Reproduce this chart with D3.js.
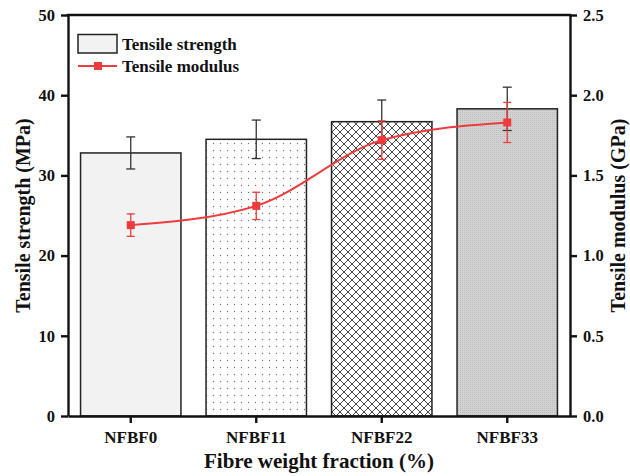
<!DOCTYPE html>
<html><head><meta charset="utf-8">
<script src="https://cdn.jsdelivr.net/npm/d3@7"></script>
<style>body{margin:0;background:#fff}svg{display:block}text{font-family:"Liberation Serif","Times New Roman",serif;font-weight:bold;fill:#111}</style>
</head><body><svg id="c" width="630" height="476"></svg>
<script>
const categories = ["NFBF0","NFBF11","NFBF22","NFBF33"];
const strength = [32.8, 34.5, 36.7, 38.3];
const strengthErr = [2.0, 2.4, 2.7, 2.7];
const modulus = [1.19, 1.31, 1.72, 1.83];
const modulusErr = [0.07, 0.085, 0.12, 0.125];
const leftTicks = [0,10,20,30,40,50];
const rightTicks = [0,0.5,1.0,1.5,2.0,2.5];

const svg = d3.select("#c");
const m = {l:68, r:570, t:15, b:416};
const x = d3.scaleBand().domain(categories).range([m.l, m.r]).paddingInner(0.2).paddingOuter(0.1);
const yL = d3.scaleLinear().domain([0,50]).range([m.b, m.t]);
const yR = d3.scaleLinear().domain([0,2.5]).range([m.b, m.t]);
const red = "#ee3b3b";

const defs = svg.append("defs");
const dots = defs.append("pattern").attr("id","dots").attr("patternUnits","userSpaceOnUse").attr("width",7).attr("height",7);
dots.append("rect").attr("width",7).attr("height",7).attr("fill","#fff");
dots.append("circle").attr("cx",3.5).attr("cy",3.5).attr("r",0.7).attr("fill","#777");
const hatch = defs.append("pattern").attr("id","hatch").attr("patternUnits","userSpaceOnUse").attr("width",8).attr("height",8);
hatch.append("rect").attr("width",8).attr("height",8).attr("fill","#fff");
hatch.append("path").attr("d","M0,0L8,8M8,0L0,8M-1,7L1,9M7,-1L9,1M-1,1L1,-1M7,9L9,7").attr("stroke","#333").attr("stroke-width",0.9);
const fine = defs.append("pattern").attr("id","fine").attr("patternUnits","userSpaceOnUse").attr("width",2).attr("height",2);
fine.append("rect").attr("width",2).attr("height",2).attr("fill","#d2d2d2");
fine.append("rect").attr("width",1).attr("height",1).attr("fill","#bdbdbd");
const fills = ["#f2f2f2","url(#dots)","url(#hatch)","url(#fine)"];

// bars
svg.selectAll("rect.bar").data(categories).join("rect").attr("class","bar")
  .attr("x", d=>x(d)).attr("width", x.bandwidth())
  .attr("y", (d,i)=>yL(strength[i])).attr("height",(d,i)=>yL(0)-yL(strength[i]))
  .attr("fill",(d,i)=>fills[i]).attr("stroke","#222").attr("stroke-width",1.5);

// strength error bars
const eb = svg.append("g").attr("stroke","#333").attr("stroke-width",1.3);
categories.forEach((c,i)=>{
  const cx = x(c)+x.bandwidth()/2;
  const t = yL(strength[i]+strengthErr[i]), b = yL(strength[i]-strengthErr[i]);
  eb.append("line").attr("x1",cx).attr("x2",cx).attr("y1",t).attr("y2",b);
  eb.append("line").attr("x1",cx-4.5).attr("x2",cx+4.5).attr("y1",t).attr("y2",t);
  eb.append("line").attr("x1",cx-4.5).attr("x2",cx+4.5).attr("y1",b).attr("y2",b);
});

// modulus line
const pts = categories.map((c,i)=>[x(c)+x.bandwidth()/2, yR(modulus[i])]);
svg.append("path").attr("d", d3.line().curve(d3.curveMonotoneX)(pts)).attr("fill","none").attr("stroke",red).attr("stroke-width",2);
const rb = svg.append("g").attr("stroke",red).attr("stroke-width",1.3);
categories.forEach((c,i)=>{
  const cx = x(c)+x.bandwidth()/2;
  const t = yR(modulus[i]+modulusErr[i]), b = yR(modulus[i]-modulusErr[i]);
  rb.append("line").attr("x1",cx).attr("x2",cx).attr("y1",t).attr("y2",b);
  rb.append("line").attr("x1",cx-4).attr("x2",cx+4).attr("y1",t).attr("y2",t);
  rb.append("line").attr("x1",cx-4).attr("x2",cx+4).attr("y1",b).attr("y2",b);
});
svg.selectAll("rect.mk").data(pts).join("rect").attr("class","mk")
  .attr("x",d=>d[0]-4).attr("y",d=>d[1]-4).attr("width",8).attr("height",8).attr("fill",red);

// axes
const axL = svg.append("g").attr("transform",`translate(${m.l},0)`).call(d3.axisLeft(yL).tickValues(leftTicks).tickSize(7).tickSizeOuter(0).tickFormat(d3.format("d")));
const axR = svg.append("g").attr("transform",`translate(${m.r},0)`).call(d3.axisRight(yR).tickValues(rightTicks).tickSize(7).tickSizeOuter(0).tickFormat(d3.format(".1f")));
const axB = svg.append("g").attr("transform",`translate(0,${m.b})`).call(d3.axisBottom(x).tickSize(7).tickSizeOuter(0));
[axL,axR,axB].forEach(a=>{
  a.select(".domain").attr("stroke","#111").attr("stroke-width",2.4);
  a.selectAll(".tick line").attr("stroke","#111").attr("stroke-width",2.4);
  a.selectAll(".tick text").style("font-size","16.5px").attr("fill","#111");
});
axB.selectAll(".tick text").style("font-size","17px").attr("y",15);
axL.selectAll(".tick text").attr("x",-13);
axR.selectAll(".tick text").attr("x",13);
svg.append("line").attr("x1",m.l-1.2).attr("x2",m.r+1.2).attr("y1",m.t).attr("y2",m.t).attr("stroke","#111").attr("stroke-width",2.4);

// titles
svg.append("text").attr("transform",`translate(30,${(m.t+m.b)/2}) rotate(-90)`).attr("text-anchor","middle").style("font-size","20px").text("Tensile strength (MPa)");
svg.append("text").attr("transform",`translate(625,${(m.t+m.b)/2}) rotate(-90)`).attr("text-anchor","middle").style("font-size","20px").text("Tensile modulus (GPa)");
svg.append("text").attr("x",(m.l+m.r)/2).attr("y",468).attr("text-anchor","middle").style("font-size","21px").text("Fibre weight fraction (%)");

// legend
const lg = svg.append("g");
lg.append("rect").attr("x",78).attr("y",34.5).attr("width",39).attr("height",18.5).attr("fill","#f2f2f2").attr("stroke","#222").attr("stroke-width",1.5);
lg.append("text").attr("x",122).attr("y",50).style("font-size","17px").text("Tensile strength");
lg.append("line").attr("x1",78).attr("x2",117).attr("y1",66).attr("y2",66).attr("stroke",red).attr("stroke-width",2);
lg.append("rect").attr("x",94).attr("y",62).attr("width",8).attr("height",8).attr("fill",red);
lg.append("text").attr("x",122).attr("y",72).style("font-size","17px").text("Tensile modulus");
</script></body></html>
